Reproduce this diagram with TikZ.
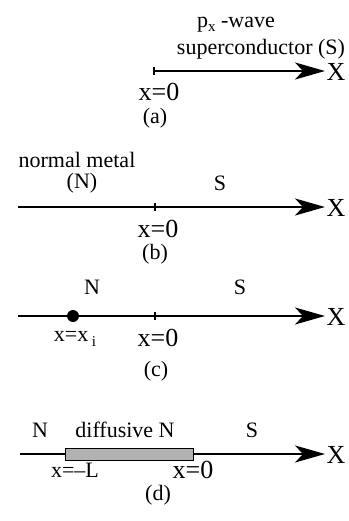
\documentclass[tikz,border=0pt]{standalone}
\usepackage{fontspec}
\setmainfont{Liberation Serif}
\usetikzlibrary{arrows.meta}
\begin{document}
\begin{tikzpicture}[x=1pt,y=-1pt,
  axis/.style={line width=1.5pt,-{Stealth[length=30pt,width=17pt,inset=8pt]}},
  lbl/.style={font=\fontsize{22}{24}\selectfont, inner sep=0pt},
  big/.style={font=\fontsize{26}{28}\selectfont, inner sep=0pt},
  ticks/.style={line width=1.5pt},
  bar/.style={draw=black, line width=1pt, fill=black!30},
  dotmark/.style={circle, fill=black, inner sep=0pt, minimum size=12pt}]
\useasboundingbox (0,0) rectangle (348,521);
% (a)
\coordinate (a0) at (154,71);
\coordinate (a1) at (325,71);
\draw[axis] (a0) -- (a1);
\draw[ticks] ([yshift=4pt]a0) -- ([yshift=-4pt]a0);
\node[big] (aX) at (336,72) {X};
\node[lbl] (ap) at (236,25) {p\raisebox{-0.4ex}{\fontsize{15}{15}\selectfont x} -wave};
\node[lbl] (as) at (261,49) {superconductor (S)};
\node[big] (ax) at (159,92) {x=0};
\node[lbl] (al) at (155,118) {(a)};
% (b)
\coordinate (b0) at (18,207);
\coordinate (b1) at (325,207);
\coordinate (bt) at (155,207);
\draw[axis] (b0) -- (b1);
\draw[ticks] ([yshift=4pt]bt) -- ([yshift=-4pt]bt);
\node[big] (bX) at (336,208) {X};
\node[lbl] (bn) at (77,160) {normal metal};
\node[lbl] (bN) at (82,183) {(N)};
\node[lbl] (bS) at (220,183) {S};
\node[big] (bx) at (158,229) {x=0};
\node[lbl] (bl) at (155,254) {(b)};
% (c)
\coordinate (c0) at (18,316);
\coordinate (c1) at (325,316);
\coordinate (ct) at (155,316);
\draw[axis] (c0) -- (c1);
\draw[ticks] ([yshift=4pt]ct) -- ([yshift=-4pt]ct);
\node[dotmark] (cd) at (73,316) {};
\node[big] (cX) at (336,317) {X};
\node[lbl] (cN) at (92,287) {N};
\node[lbl] (cS) at (240,287) {S};
\node[lbl] (cxi) at (75,339) {x=x\,\raisebox{-0.5ex}{\fontsize{15}{15}\selectfont i}};
\node[big] (cx) at (158,338) {x=0};
\node[lbl] (cl) at (156,371) {(c)};
% (d)
\coordinate (d0) at (20,454);
\coordinate (d1) at (325,454);
\draw[axis] (d0) -- (d1);
\node[bar, minimum width=128pt, minimum height=12pt, inner sep=0pt] (dr) at (129,454) {};
\node[big] (dX) at (336,455) {X};
\node[lbl] (dN) at (40,430) {N};
\node[lbl] (dd) at (125,430) {diffusive N};
\node[lbl] (dS) at (252,430) {S};
\node[lbl] (dL) at (75,470) {x=--L};
\node[big] (dx) at (193,470) {x=0};
\node[lbl] (dl) at (158,495) {(d)};
\end{tikzpicture}
\end{document}
